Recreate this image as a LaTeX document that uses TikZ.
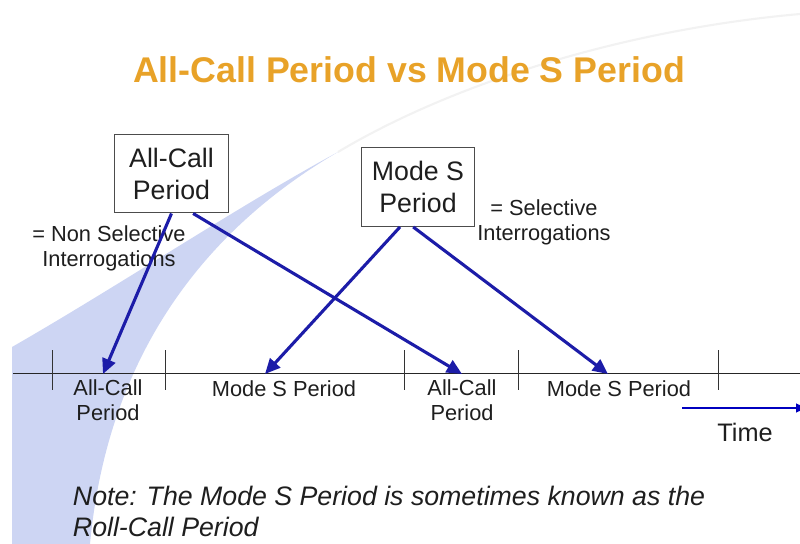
\documentclass[tikz,border=0pt]{standalone}
\usepackage{fontspec}
\setmainfont{Liberation Sans}
\usetikzlibrary{arrows.meta}
\definecolor{swoosh}{RGB}{205,213,243}
\definecolor{titleorange}{RGB}{232,162,40}
\definecolor{callblue}{RGB}{28,28,168}
\definecolor{textgray}{RGB}{30,30,30}

\begin{document}
\begin{tikzpicture}[x=0.025cm, y=-0.025cm,
	period/.style={draw=black!70, line width=0.8pt, fill=white, align=center,
		minimum width=2.83cm, minimum height=1.97cm, text=textgray,
		font=\fontsize{19}{22.8}\selectfont},
	lbl/.style={align=center, text=textgray, font=\fontsize{15.5}{18}\selectfont},
	call/.style={callblue, line width=2.2pt, -{Triangle[length=0.38cm, width=0.34cm]}},
	tickmark/.style={black!80, line width=0.6pt}]
	\useasboundingbox (0,0) rectangle (800,544);
	
	% background swoosh
	\fill[swoosh] (12,347) .. controls (120,285) and (240,205) .. (338,152)
		.. controls (230,215) and (110,330) .. (90,544) -- (12,544) -- cycle;
	\draw[black!5, line width=1.5pt] (338,152) .. controls (450,85) and (620,30) .. (800,14);
	
	\node[text=titleorange, font=\bfseries\fontsize{25.4}{30}\selectfont] (title) at (409,70)
		{All-Call Period vs Mode S Period};
	
	\node[period] (acbox) at (171.5,173.5) {All-Call\\Period};
	\node[period] (msbox) at (418,187) {Mode S\\Period};
	\node[lbl] (nonsel) at (109,248.5) {= Non Selective\\Interrogations};
	\node[lbl] (sel) at (544,222.5) {= Selective\\Interrogations};
	
	% time line
	\coordinate (axisstart) at (13,373);
	\coordinate (axisend) at (800,373);
	\draw[black!85, line width=0.6pt] (axisstart) -- (axisend);
	\foreach \tx in {52,165,404,518,718}
		\draw[tickmark] (\tx,350) -- (\tx,390);
	
	\node[lbl] (acone) at (108,400.5) {All-Call\\Period};
	\node[lbl] (msone) at (284,389) {Mode S Period};
	\node[lbl] (actwo) at (462,400.5) {All-Call\\Period};
	\node[lbl] (mstwo) at (619,389) {Mode S Period};
	
	\coordinate (hitA) at (103,374);
	\coordinate (hitB) at (462,374);
	\coordinate (hitC) at (265,374);
	\coordinate (hitD) at (608,374);
	
	\draw[call] (acbox.south) -- (hitA);
	\draw[call] ([xshift=0.54cm]acbox.south) -- (hitB);
	\draw[call] ([xshift=-0.45cm]msbox.south) -- (hitC);
	\draw[call] ([xshift=-0.12cm]msbox.south) -- (hitD);
	
	\coordinate (timestart) at (682,408);
	\coordinate (timeend) at (806,408);
	\draw[blue!75!black, line width=1.3pt, -{Triangle[length=0.25cm, width=0.22cm]}] (timestart) -- (timeend);
	\node[text=textgray, font=\fontsize{18}{21}\selectfont] (time) at (745,432) {Time};
	
	\node[anchor=west, align=left, text=textgray, font=\itshape\fontsize{19}{22}\selectfont] (note) at (68,511.5)
		{Note: The Mode S Period is sometimes known as the\\Roll-Call Period};
\end{tikzpicture}
\end{document}
